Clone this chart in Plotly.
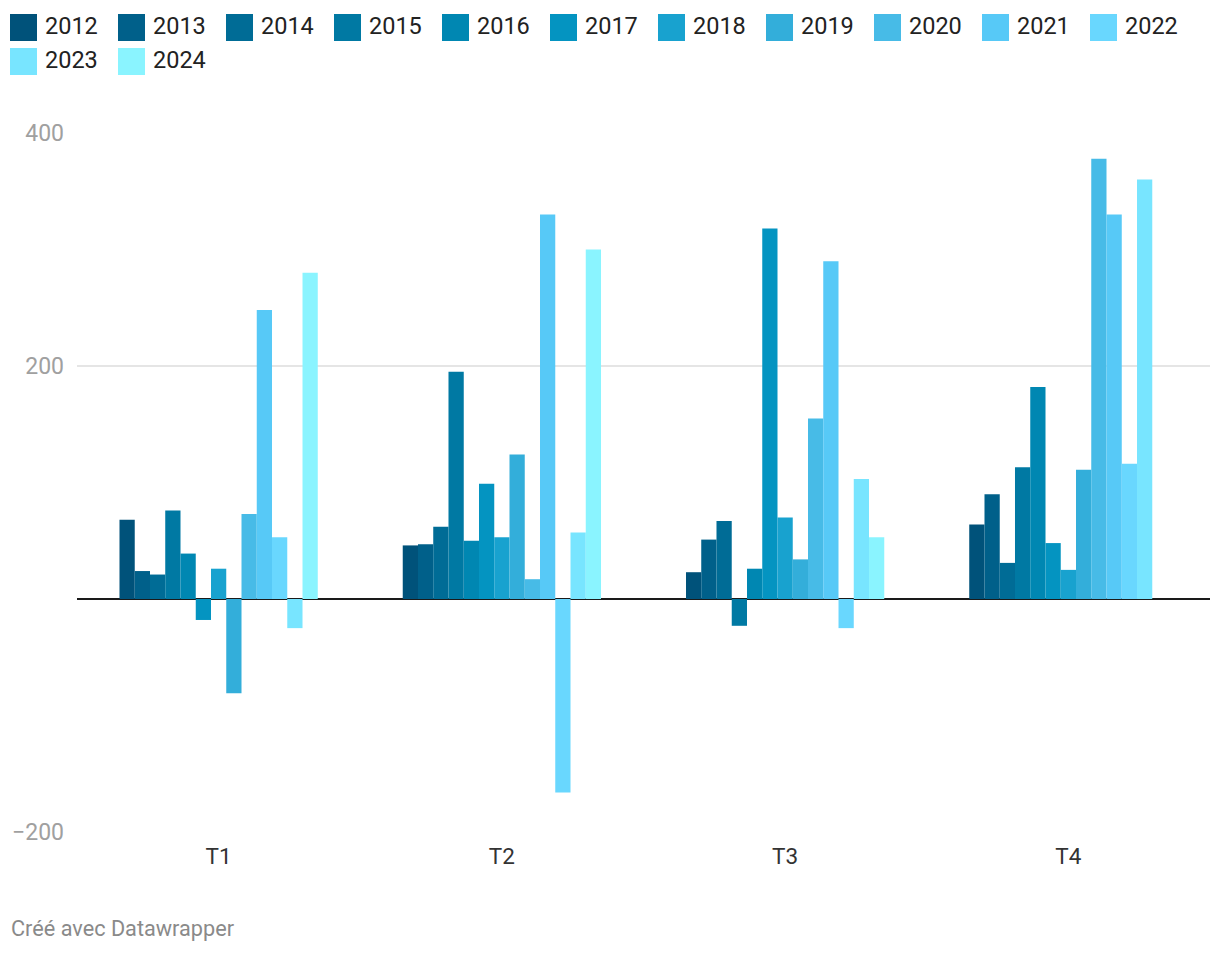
import plotly.graph_objects as go

quarters = ["T1", "T2", "T3", "T4"]
years = ["2012", "2013", "2014", "2015", "2016", "2017", "2018",
         "2019", "2020", "2021", "2022", "2023", "2024"]

v2012 = [68, 46, 23, 64]
v2013 = [24, 47, 51, 90]
v2014 = [21, 62, 67, 31]
v2015 = [76, 195, -23, 113]
v2016 = [39, 50, 26, 182]
v2017 = [-18, 99, 318, 48]
v2018 = [26, 53, 70, 25]
v2019 = [-81, 124, 34, 111]
v2020 = [73, 17, 155, 378]
v2021 = [248, 330, 290, 330]
v2022 = [53, -166, -25, 116]
v2023 = [-25, 57, 103, 360]
v2024 = [280, 300, 53, None]

series = [v2012, v2013, v2014, v2015, v2016, v2017, v2018,
          v2019, v2020, v2021, v2022, v2023, v2024]

colors = ["#00527A", "#00608A", "#006C96", "#0079A3", "#0087B2", "#0494C1",
          "#18A2CF", "#33AEDA", "#47BBE7", "#57C9F7", "#69D7FE", "#78E5FF",
          "#8AF4FF"]

ytick_vals = [-200, 200, 400]
ytick_text = ["\u2212200", "200", "400"]

# page body has an 8px margin; work in screen pixels and shift
OFF = 8
SCREEN_W, SCREEN_H = 1220, 954
W, H = SCREEN_W - OFF, SCREEN_H - OFF
PLOT_L, PLOT_R, PLOT_T, PLOT_B = 77, 1210, 133, 832  # screen pixels
ML = PLOT_L - OFF
MT = PLOT_T - OFF
MR = W - (PLOT_R - OFF)
MB = H - (PLOT_B - OFF)
PW = W - ML - MR
PH = H - MT - MB


def px_x(px):
    return (px - PLOT_L) / PW


def px_y(py):
    return (PLOT_B - py) / PH


fig = go.Figure()
for name, vals, col in zip(years, series, colors):
    fig.add_trace(go.Bar(x=quarters, y=vals, name=name, marker_color=col,
                         marker_line_width=0, showlegend=False))

# custom legend (layout decoration)
shapes = []
annotations = []
per_row = 11
step = 108
sq = 27
for i, (name, col) in enumerate(zip(years, colors)):
    row, colidx = divmod(i, per_row)
    left = 10 + colidx * step
    top = 14 + row * 34
    shapes.append(dict(type="rect", xref="paper", yref="paper",
                       x0=px_x(left), x1=px_x(left + sq),
                       y0=px_y(top + sq), y1=px_y(top),
                       fillcolor=col, line_width=0, layer="above"))
    annotations.append(dict(text=name, xref="paper", yref="paper",
                            x=px_x(left + 33), y=px_y(top + sq / 2 - 1),
                            xanchor="left", yanchor="middle", showarrow=False,
                            font=dict(family="Roboto", size=23.5, color="#222222")))

annotations.append(dict(text="Créé avec Datawrapper", xref="paper", yref="paper",
                        x=px_x(9), y=px_y(928), xanchor="left", yanchor="middle",
                        showarrow=False,
                        font=dict(family="Roboto", size=21.7, color="#8a8a8a")))

fig.update_layout(
    width=W, height=H,
    margin=dict(l=ML, r=MR, t=MT, b=MB, pad=0, autoexpand=False),
    paper_bgcolor="white", plot_bgcolor="white",
    barmode="group", bargap=0.3, bargroupgap=0,
    font=dict(family="Roboto", color="#222222"),
    shapes=shapes, annotations=annotations,
    showlegend=False,
)
fig.update_xaxes(showgrid=False, showline=False, ticks="", automargin=False,
                 tickfont=dict(family="Roboto", size=22.5, color="#333333"),
                 ticklabelstandoff=8)
fig.update_yaxes(range=[-200, 400], tickvals=ytick_vals, ticktext=ytick_text,
                 automargin=False,
                 showgrid=True, gridcolor="#e5e5e5", gridwidth=1.5,
                 zeroline=True, zerolinecolor="#1a1a1a", zerolinewidth=2,
                 showline=False, ticks="",
                 tickfont=dict(family="Roboto", size=23, color="#a0a0a0"),
                 ticklabelstandoff=12)

fig.write_html("out.html")
